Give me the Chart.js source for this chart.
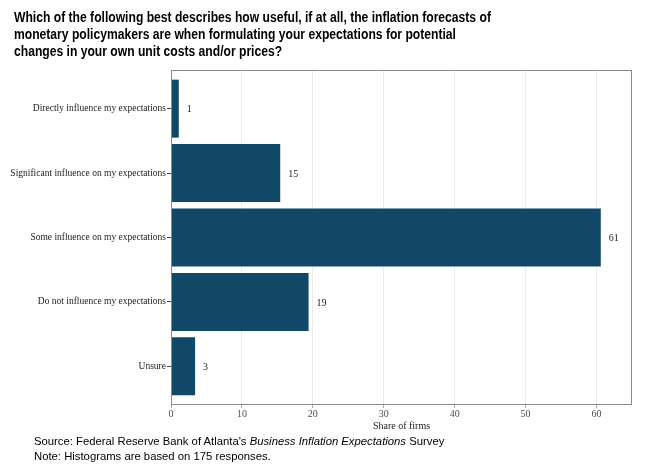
<!DOCTYPE html>
<html>
<head>
<meta charset="utf-8">
<script src="https://cdn.jsdelivr.net/npm/chart.js@4"></script>
<style>
  html, body { margin: 0; padding: 0; background: #fff; }
  #wrap { position: relative; width: 648px; height: 472px; overflow: hidden; }
  #title {
    position: absolute; left: 14px; top: 9px; width: 700px;
    font: bold 14px "Liberation Sans", Arial, sans-serif; line-height: 17px; color: #000;
    transform: scaleX(0.866); transform-origin: 0 0;
  }
  #source {
    position: absolute; left: 34px; top: 434px;
    font: 11.3px "Liberation Sans", Arial, sans-serif; line-height: 15px; color: #000;
  }
  canvas { position: absolute; left: 0; top: 0; }
</style>
</head>
<body>
<div id="wrap">
  <canvas id="chart" width="648" height="472"></canvas>
  <div id="title">Which of the following best describes how useful, if at all, the inflation forecasts of<br>monetary policymakers are when formulating your expectations for potential<br>changes in your own unit costs and/or prices?</div>
  <div id="source">Source: Federal Reserve Bank of Atlanta's <i>Business Inflation Expectations</i> Survey<br>Note: Histograms are based on 175 responses.</div>
</div>
<script>
// Categories, top to bottom
const categories = [
    "Directly influence my expectations",
    "Significant influence on my expectations",
    "Some influence on my expectations",
    "Do not influence my expectations",
    "Unsure"
];
// Share of firms (percent)
const shares = [1.1, 15.4, 60.6, 19.4, 3.4];
// Value axis ticks
const xTicks = [0, 10, 20, 30, 40, 50, 60];

const barColor = "#114868";
const serif = '"Liberation Serif", "Times New Roman", serif';

// Frame round the panel
const framePlugin = {
    id: "frame",
    afterDraw(chart) {
        const a = chart.chartArea;
        const ctx = chart.ctx;
        ctx.save();
        ctx.strokeStyle = "#8a8a8a";
        ctx.lineWidth = 1;
        ctx.strokeRect(Math.round(a.left) + 0.5, Math.round(a.top) + 0.5,
            Math.round(a.right - a.left) - 1, Math.round(a.bottom - a.top) - 1);
        ctx.restore();
    }
};

// Value labels next to each bar
const labelPlugin = {
    id: "barLabels",
    afterDatasetsDraw(chart) {
        const ctx = chart.ctx;
        const meta = chart.getDatasetMeta(0);
        ctx.save();
        ctx.font = "10px " + serif;
        ctx.fillStyle = "#222";
        ctx.textAlign = "left";
        ctx.textBaseline = "middle";
        meta.data.forEach((bar, i) => {
            ctx.fillText(String(Math.round(shares[i])), bar.x + 8, bar.y + 1);
        });
        ctx.restore();
    }
};

function initChart() {
    const ctx = document.getElementById("chart").getContext("2d");
    new Chart(ctx, {
        type: "bar",
        data: {
            datasets: [{
                data: shares.map((v, i) => ({ x: v, y: i })),
                backgroundColor: barColor,
                borderWidth: 0,
                barPercentage: 0.9,
                categoryPercentage: 1.0
            }]
        },
        options: {
            indexAxis: "y",
            responsive: false,
            animation: false,
            layout: { padding: { top: 70, right: 16, bottom: 37, left: 0 } },
            plugins: { legend: { display: false }, tooltip: { enabled: false } },
            scales: {
                y: {
                    type: "linear",
                    min: -0.6,
                    max: 4.6,
                    reverse: true,
                    offset: false,
                    afterFit(scale) { scale.width = 171; },
                    afterBuildTicks(scale) { scale.ticks = categories.map((c, i) => ({ value: i })); },
                    grid: { offset: false, drawOnChartArea: false, drawTicks: true, tickLength: 4, color: "#444" },
                    border: { display: false },
                    ticks: {
                        padding: 1,
                        color: "#222",
                        font: { family: serif, size: 9.5 },
                        callback: v => categories[v]
                    }
                },
                x: {
                    type: "linear",
                    min: 0,
                    max: 65,
                    afterFit(scale) { scale.height = 30; },
                    afterBuildTicks(scale) { scale.ticks = xTicks.map(v => ({ value: v })); },
                    grid: { color: "#ebebeb", drawTicks: true, tickLength: 3, tickColor: "#aaa" },
                    border: { display: false },
                    ticks: {
                        padding: 0,
                        color: "#4d4d4d",
                        font: { family: serif, size: 10 }
                    },
                    title: {
                        display: true,
                        text: "Share of firms",
                        color: "#222",
                        padding: { top: 0, bottom: 3 },
                        font: { family: serif, size: 10 }
                    }
                }
            }
        },
        plugins: [framePlugin, labelPlugin]
    });
}

window.onload = initChart;
</script>
</body>
</html>
